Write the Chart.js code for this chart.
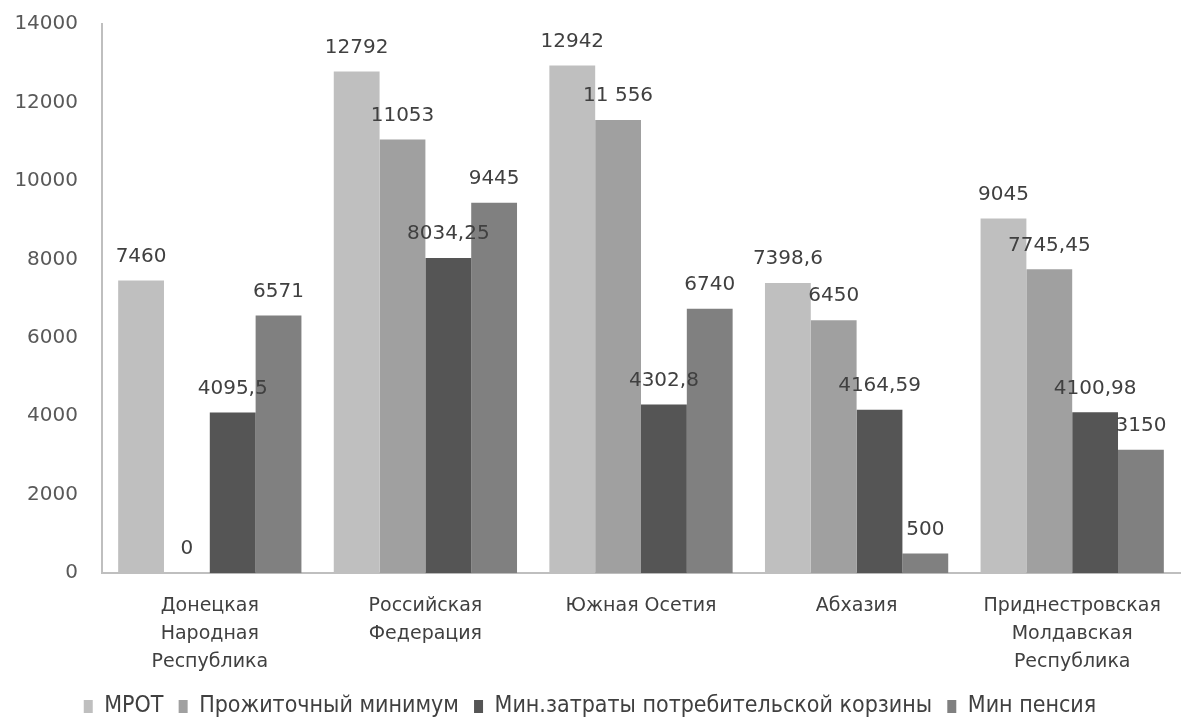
<!DOCTYPE html>
<html>
<head>
<meta charset="utf-8">
<title>МРОТ и прожиточный минимум</title>
<script src="https://cdn.jsdelivr.net/npm/chart.js"></script>
<style>
    body { margin: 0; padding: 0; background: #ffffff; }
    #wrap { position: relative; width: 1184px; height: 728px; }
</style>
</head>
<body>
<div id="wrap">
    <canvas id="myBarChart" width="1184" height="728"></canvas>
</div>
<script>

    // Регионы (подписи оси X, по строкам)
    var regions = [
        ['Донецкая', 'Народная', 'Республика'],
        ['Российская', 'Федерация'],
        ['Южная Осетия'],
        ['Абхазия'],
        ['Приднестровская', 'Молдавская', 'Республика']
    ];

    var seriesNames = ['МРОТ', 'Прожиточный минимум', 'Мин.затраты потребительской корзины', 'Мин пенсия'];

    var mrot        = [7460, 12792, 12942, 7398.6, 9045];
    var prozhMin    = [0, 11053, 11556, 6450, 7745.45];
    var korzina     = [4095.5, 8034.25, 4302.8, 4164.59, 4100.98];
    var pension     = [6571, 9445, 6740, 500, 3150];

    var yTicks = [0, 2000, 4000, 6000, 8000, 10000, 12000, 14000];

    var colors = ['#bfbfbf', '#a0a0a0', '#555555', '#808080'];

    // подписи значений: запятая как десятичный разделитель, пробел в 11 556
    function fmt(v) {
        var s = String(v).replace('.', ',');
        if (v === 11556) s = '11 556';
        return s;
    }

    var valueLabels = {
        id: 'valueLabels',
        afterDatasetsDraw: function(chart) {
            var ctx = chart.ctx;
            ctx.save();
            ctx.font = '20px "DejaVu Sans"';
            ctx.fillStyle = '#404040';
            ctx.textAlign = 'center';
            ctx.textBaseline = 'bottom';
            chart.data.datasets.forEach(function(ds, i) {
                var meta = chart.getDatasetMeta(i);
                meta.data.forEach(function(bar, j) {
                    ctx.fillText(fmt(ds.data[j]), bar.x, bar.y - 14);
                });
            });
            ctx.restore();
        }
    };

    var datasets = [mrot, prozhMin, korzina, pension].map(function(d, i) {
        return {
            label: seriesNames[i],
            data: d,
            backgroundColor: colors[i],
            borderWidth: 0,
            barPercentage: 1.0,
            categoryPercentage: 0.85
        };
    });

    var config = {
        type: 'bar',
        data: { labels: regions, datasets: datasets },
        options: {
            responsive: false,
            animation: false,
            layout: { padding: { top: 24, right: 4, left: 0, bottom: 0 } },
            plugins: {
                tooltip: { enabled: false },
                legend: {
                    position: 'bottom',
                    labels: {
                        boxWidth: 9,
                        boxHeight: 13,
                        padding: 2,
                        color: '#404040',
                        font: { family: '"DejaVu Sans Condensed", "DejaVu Sans"', size: 23, lineHeight: 1.0 },
                        // пробелы после подписи раздвигают элементы легенды
                        generateLabels: function(chart) {
                            var items = Chart.defaults.plugins.legend.labels.generateLabels(chart);
                            items.forEach(function(it, i) {
                                if (i < items.length - 1) it.text = it.text + '  ';
                            });
                            return items;
                        }
                    }
                }
            },
            scales: {
                x: {
                    afterFit: function(axis) { axis.height = axis.height - 2; },
                    grid: { display: false, drawTicks: false },
                    border: { color: '#bfbfbf', width: 2 },
                    ticks: {
                        color: '#404040',
                        padding: 19,
                        maxRotation: 0,
                        autoSkip: false,
                        font: { family: '"DejaVu Sans"', size: 19, lineHeight: 1.47 }
                    }
                },
                y: {
                    min: 0,
                    max: 14000,
                    afterBuildTicks: function(axis) {
                        axis.ticks = yTicks.map(function(v) { return { value: v }; });
                    },
                    afterFit: function(axis) { axis.width = 102; },
                    grid: { display: false, drawTicks: true, tickLength: 22 },
                    border: { color: '#bfbfbf', width: 2 },
                    ticks: {
                        color: '#595959',
                        padding: 2,
                        font: { family: '"DejaVu Sans"', size: 20 },
                        callback: function(v) { return String(v); }
                    }
                }
            }
        },
        plugins: [valueLabels]
    };

    var myChart = new Chart(document.getElementById('myBarChart'), config);

</script>
</body>
</html>
